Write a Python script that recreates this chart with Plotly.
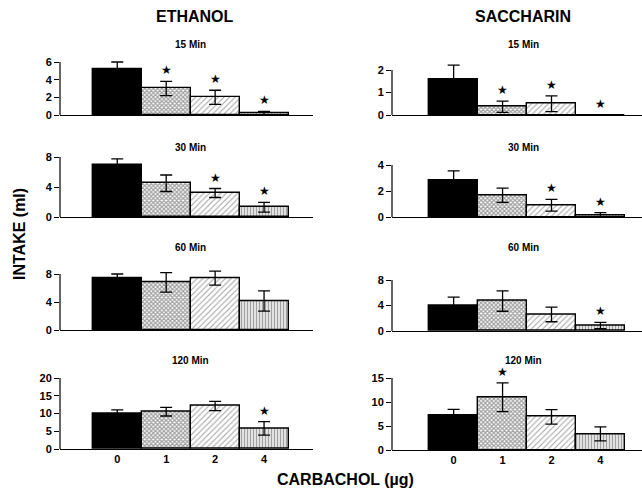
import plotly.graph_objects as go

# ---------------- data ----------------
categories = ["0", "1", "2", "4"]

eth_15 = [5.2, 3.0, 2.0, 0.2]
eth_15_err = [0.8, 0.8, 0.8, 0.2]
eth_15_sig = [False, True, True, True]

eth_30 = [7.0, 4.5, 3.2, 1.3]
eth_30_err = [0.75, 1.1, 0.6, 0.65]
eth_30_sig = [False, False, True, True]

eth_60 = [7.4, 6.8, 7.4, 4.15]
eth_60_err = [0.6, 1.4, 1.0, 1.45]
eth_60_sig = [False, False, False, False]

eth_120 = [9.9, 10.5, 12.1, 5.8]
eth_120_err = [1.1, 1.2, 1.3, 1.9]
eth_120_sig = [False, False, False, True]

sac_15 = [1.6, 0.37, 0.5, 0.0]
sac_15_err = [0.62, 0.25, 0.35, 0.0]
sac_15_sig = [False, True, True, True]

sac_30 = [2.85, 1.67, 0.9, 0.13]
sac_30_err = [0.7, 0.55, 0.45, 0.2]
sac_30_sig = [False, False, True, True]

sac_60 = [4.0, 4.7, 2.6, 0.85]
sac_60_err = [1.3, 1.6, 1.15, 0.5]
sac_60_sig = [False, False, False, True]

sac_120 = [7.2, 11.0, 6.9, 3.35]
sac_120_err = [1.25, 3.0, 1.5, 1.45]
sac_120_sig = [False, True, False, False]

eth_ticks_15 = [0, 2, 4, 6]
eth_ticks_30 = [0, 4, 8]
eth_ticks_60 = [0, 4, 8]
eth_ticks_120 = [0, 5, 10, 15, 20]
sac_ticks_15 = [0, 1, 2]
sac_ticks_30 = [0, 2, 4]
sac_ticks_60 = [0, 4, 8]
sac_ticks_120 = [0, 5, 10, 15]

panel_titles = ["15 Min", "30 Min", "60 Min", "120 Min"]
column_titles = ["ETHANOL", "SACCHARIN"]

# ---------------- layout helpers ----------------
W, H = 642, 490
FONT = "Liberation Sans, Arial, sans-serif"


def fy(p):
    return 1 - p / H


def fx(p):
    return p / W


# (values, errs, sig, ticks, baseline px, top-tick px, column)
panels = [
    (eth_15, eth_15_err, eth_15_sig, eth_ticks_15, 115, 62, 0),
    (eth_30, eth_30_err, eth_30_sig, eth_ticks_30, 217, 157, 0),
    (eth_60, eth_60_err, eth_60_sig, eth_ticks_60, 330, 274, 0),
    (eth_120, eth_120_err, eth_120_sig, eth_ticks_120, 449, 378, 0),
    (sac_15, sac_15_err, sac_15_sig, sac_ticks_15, 115, 70, 1),
    (sac_30, sac_30_err, sac_30_sig, sac_ticks_30, 217, 165, 1),
    (sac_60, sac_60_err, sac_60_sig, sac_ticks_60, 331, 280, 1),
    (sac_120, sac_120_err, sac_120_sig, sac_ticks_120, 450, 378, 1),
]

col_x = [(60, 313, [-1.17, 4.0]), (392, 642, [-1.26, 3.85])]

bar_colors = ["black", "white", "white", "white"]
pat_shapes = ["", "x", "/", "|"]
pat_sizes = [4, 3, 4, 3]
pat_solid = [0.3, 0.65, 0.25, 0.55]

fig = go.Figure()
layout = dict(
    width=W, height=H, margin=dict(l=0, r=0, t=0, b=0, autoexpand=False),
    paper_bgcolor="white", plot_bgcolor="rgba(0,0,0,0)",
    showlegend=False, bargap=0, font=dict(family=FONT, color="black"),
)
annotations = []
shapes = []

for i, (vals, errs, sig, ticks, y0, ytop, col) in enumerate(panels, start=1):
    sfx = "" if i == 1 else str(i)
    xa, ya = f"x{sfx}", f"y{sfx}"
    xl, xr, xrange = col_x[col]
    scale = (y0 - ytop) / ticks[-1]
    R = ticks[-1] * 1.3
    dom_top = min(1.0, fy(y0 - R * scale))
    bottom = (i % 4 == 0)

    fig.add_trace(go.Bar(
        x=categories, y=vals, xaxis=xa, yaxis=ya, width=1,
        marker=dict(color=bar_colors, line=dict(color="black", width=1.4),
                    pattern=dict(shape=pat_shapes, fgcolor="black",
                                 size=pat_sizes, solidity=pat_solid)),
        error_y=dict(type="data", array=errs, color="black", thickness=1.3, width=6),
        hoverinfo="skip",
    ))

    layout[f"xaxis{sfx}"] = dict(
        domain=[fx(xl), fx(xr)], anchor=ya, type="category",
        categoryorder="array", categoryarray=categories, range=xrange,
        showline=True, linecolor="black", linewidth=1.2, ticks="",
        showticklabels=bottom, showgrid=False, zeroline=False, automargin=False,
        tickfont=dict(family=FONT, size=11, color="black", weight="bold"),
    )
    layout[f"yaxis{sfx}"] = dict(
        domain=[fy(y0), dom_top], anchor=xa, range=[0, R],
        tickvals=ticks, ticks="outside", ticklen=5, tickcolor="black", tickwidth=1,
        showline=False, showgrid=False, zeroline=False, automargin=False,
        tickfont=dict(family=FONT, size=11, color="black", weight="bold"),
    )
    shapes.append(dict(type="line", xref=f"{xa} domain", yref=ya,
                       x0=0, x1=0, y0=0, y1=ticks[-1],
                       line=dict(color="black", width=1.2)))

    for j, (v, e, s) in enumerate(zip(vals, errs, sig)):
        if s:
            annotations.append(dict(
                x=j, y=v + e, xref=xa, yref=ya, text="★", showarrow=False,
                yanchor="middle", yshift=11,
                font=dict(family="DejaVu Sans", size=12, color="black")))

    # panel title
    row = (i - 1) % 4
    title_px = [45, 147, 248, 360][row]
    annotations.append(dict(
        x=fx((xl + xr) / 2 + (4 if col == 0 else 6)), y=fy(title_px),
        xref="paper", yref="paper", text=f"<b>{panel_titles[row]}</b>",
        showarrow=False, font=dict(family=FONT, size=10, color="black"),
        xanchor="center", yanchor="middle"))

for col, cx in enumerate([195, 523]):
    annotations.append(dict(
        x=fx(cx), y=fy(17), xref="paper", yref="paper",
        text=f"<b>{column_titles[col]}</b>", showarrow=False,
        font=dict(family=FONT, size=16, color="black"),
        xanchor="center", yanchor="middle"))

annotations.append(dict(
    x=fx(20), y=fy(234), xref="paper", yref="paper", text="<b>INTAKE (ml)</b>",
    showarrow=False, textangle=-90, font=dict(family=FONT, size=16, color="black"),
    xanchor="center", yanchor="middle"))
annotations.append(dict(
    x=fx(345), y=fy(479), xref="paper", yref="paper", text="<b>CARBACHOL (µg)</b>",
    showarrow=False, font=dict(family=FONT, size=16, color="black"),
    xanchor="center", yanchor="middle"))

layout["annotations"] = annotations
layout["shapes"] = shapes
fig.update_layout(**layout)
fig.write_html(
    "out.html",
    config={"displayModeBar": False},
    post_script="document.body.style.margin='0px';document.body.style.overflow='hidden';",
)
